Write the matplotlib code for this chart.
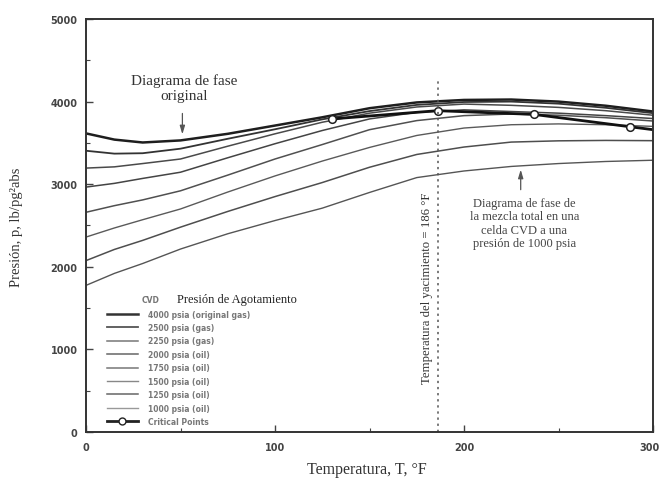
import numpy as np
import matplotlib
matplotlib.use("Agg")
import matplotlib.pyplot as plt
import matplotlib.transforms as mtransforms
from matplotlib.lines import Line2D

temp = [0, 15, 30, 50, 75, 100, 125, 150, 175, 200, 225, 250, 275, 300]

# pressure (psia) of each CVD-stage phase envelope
p_4000 = [3615, 3540, 3505, 3530, 3610, 3710, 3810, 3920, 3990, 4020, 4025, 4000, 3950, 3880]
p_2500 = [3405, 3370, 3375, 3430, 3550, 3665, 3785, 3885, 3960, 3995, 4000, 3975, 3925, 3860]
p_2250 = [3195, 3210, 3250, 3305, 3460, 3610, 3750, 3860, 3935, 3970, 3955, 3930, 3890, 3835]
p_2000 = [2965, 3010, 3070, 3145, 3320, 3490, 3650, 3790, 3870, 3900, 3880, 3860, 3830, 3795]
p_1750 = [2660, 2740, 2810, 2920, 3110, 3305, 3480, 3660, 3770, 3830, 3850, 3835, 3805, 3765]
p_1500 = [2360, 2470, 2570, 2700, 2905, 3100, 3280, 3445, 3590, 3680, 3720, 3730, 3720, 3700]
p_1250 = [2075, 2210, 2320, 2480, 2670, 2850, 3020, 3205, 3360, 3450, 3510, 3525, 3530, 3527]
p_1000 = [1775, 1920, 2040, 2215, 2400, 2560, 2710, 2900, 3080, 3160, 3215, 3250, 3275, 3290]

labels = ["4000 psia (original gas)", "2500 psia (gas)", "2250 psia (gas)", "2000 psia (oil)",
          "1750 psia (oil)", "1500 psia (oil)", "1250 psia (oil)", "1000 psia (oil)"]
curves = [p_4000, p_2500, p_2250, p_2000, p_1750, p_1500, p_1250, p_1000]

# critical points locus
crit_t = [130, 186, 237, 288]
crit_p = [3790, 3890, 3845, 3695]
crit_line_t = [130, 186, 237, 288, 300]
crit_line_p = [3790, 3890, 3845, 3695, 3660]

T_RES = 186

colors = ["#1e1e1e", "#333333", "#4a4a4a", "#444444", "#505050", "#5a5a5a", "#4e4e4e", "#555555"]
widths = [1.8, 1.3, 1.1, 1.1, 1.1, 1.0, 1.1, 1.0]
leg_colors = ["#333333", "#555555", "#777777", "#666666", "#777777", "#888888", "#666666", "#999999"]

serif = ["Liberation Serif", "DejaVu Serif"]

fig = plt.figure(figsize=(6.61, 4.89), dpi=100)
ax = fig.add_axes([86 / 661, 1 - 433 / 489, 567 / 661, 413 / 489])

for y, c, lw in zip(curves, colors, widths):
    ax.plot(temp, y, color=c, lw=lw, solid_capstyle="round")

ax.plot(crit_line_t, crit_line_p, color="#111111", lw=2.0)
ax.plot(crit_t, crit_p, "o", ms=5.5, mfc="white", mec="#222222", mew=1.1)

ax.vlines(T_RES, 0, 4250, colors="#555555", lw=1.1, linestyles=(0, (1.5, 2.5)))
ax.text(T_RES - 5.5, 1755, "Temperatura del yacimiento = 186 °F", rotation=90,
        ha="center", va="center", fontsize=9.2, family=serif, color="#333333")

# annotations
ax.annotate("", xy=(51, 3570), xytext=(51, 3890),
            arrowprops=dict(arrowstyle="-|>,head_width=0.15,head_length=0.5", color="#555555", lw=0.9))
ax.text(52, 4170, "Diagrama de fase\noriginal", ha="center", va="center",
        fontsize=11, family=serif, color="#333333", linespacing=1.25)

ax.annotate("", xy=(230, 3210), xytext=(230, 2900),
            arrowprops=dict(arrowstyle="-|>,head_width=0.15,head_length=0.5", color="#555555", lw=0.9))
ax.text(232, 2530, "Diagrama de fase de\nla mezcla total en una\nceldа CVD a una\npresión de 1000 psia",
        ha="center", va="center", fontsize=9, family=serif, color="#444444", linespacing=1.12)

# legend
handles = [Line2D([0], [0], color=c, lw=w) for c, w in zip(leg_colors, widths)]
handles.append(Line2D([0], [0], color="#222222", lw=2.0, marker="o", ms=5, mfc="white", mec="#222222"))
leg = ax.legend(handles, labels + ["Critical Points"], loc="lower left", bbox_to_anchor=(0.025, -0.002),
                frameon=False, handlelength=4.0, labelspacing=0.58, handletextpad=1.4,
                prop=dict(size=5.5, weight="bold"))
for t in leg.get_texts():
    t.set_color("#777777")
ax.text(34, 1610, "CVD", fontsize=5.5, weight="bold", color="#777777", ha="center", va="center")
ax.text(48, 1615, "Presión de Agotamiento", fontsize=9, family=serif, color="#222222",
        ha="left", va="center")

ax.set_xlim(0, 300)
ax.set_ylim(0, 5000)
ax.set_xticks([0, 100, 200, 300])
ax.set_yticks([0, 1000, 2000, 3000, 4000, 5000])
ax.set_xticks([50, 150, 250], minor=True)
ax.set_yticks([500, 1500, 2500, 3500, 4500], minor=True)
ax.tick_params(which="both", direction="in", color="#444444", labelsize=7, labelcolor="#444444")
ax.tick_params(which="major", length=5, width=1.0)
ax.tick_params(which="minor", length=3, width=0.8)
ax.tick_params(axis="x", pad=7)
ax.tick_params(axis="y", pad=6)
for lab in ax.get_xticklabels() + ax.get_yticklabels():
    lab.set_fontweight("bold")
# the last x label sits against the right edge of the figure
last = ax.get_xticklabels()[-1]
last.set_transform(last.get_transform() + mtransforms.ScaledTranslation(-4 / 100, 0, fig.dpi_scale_trans))
for s in ax.spines.values():
    s.set_linewidth(1.4)
    s.set_color("#333333")

fig.text(17 / 661, 1 - 227 / 489, "Presión, p, lb/pg²abs", rotation=90, ha="center", va="center",
         fontsize=10.5, family=serif, color="#333333")
fig.text(367 / 661, 1 - 470 / 489, "Temperatura, T, °F", ha="center", va="center",
         fontsize=11.5, family=serif, color="#333333")

fig.savefig("out.png", dpi=100)
